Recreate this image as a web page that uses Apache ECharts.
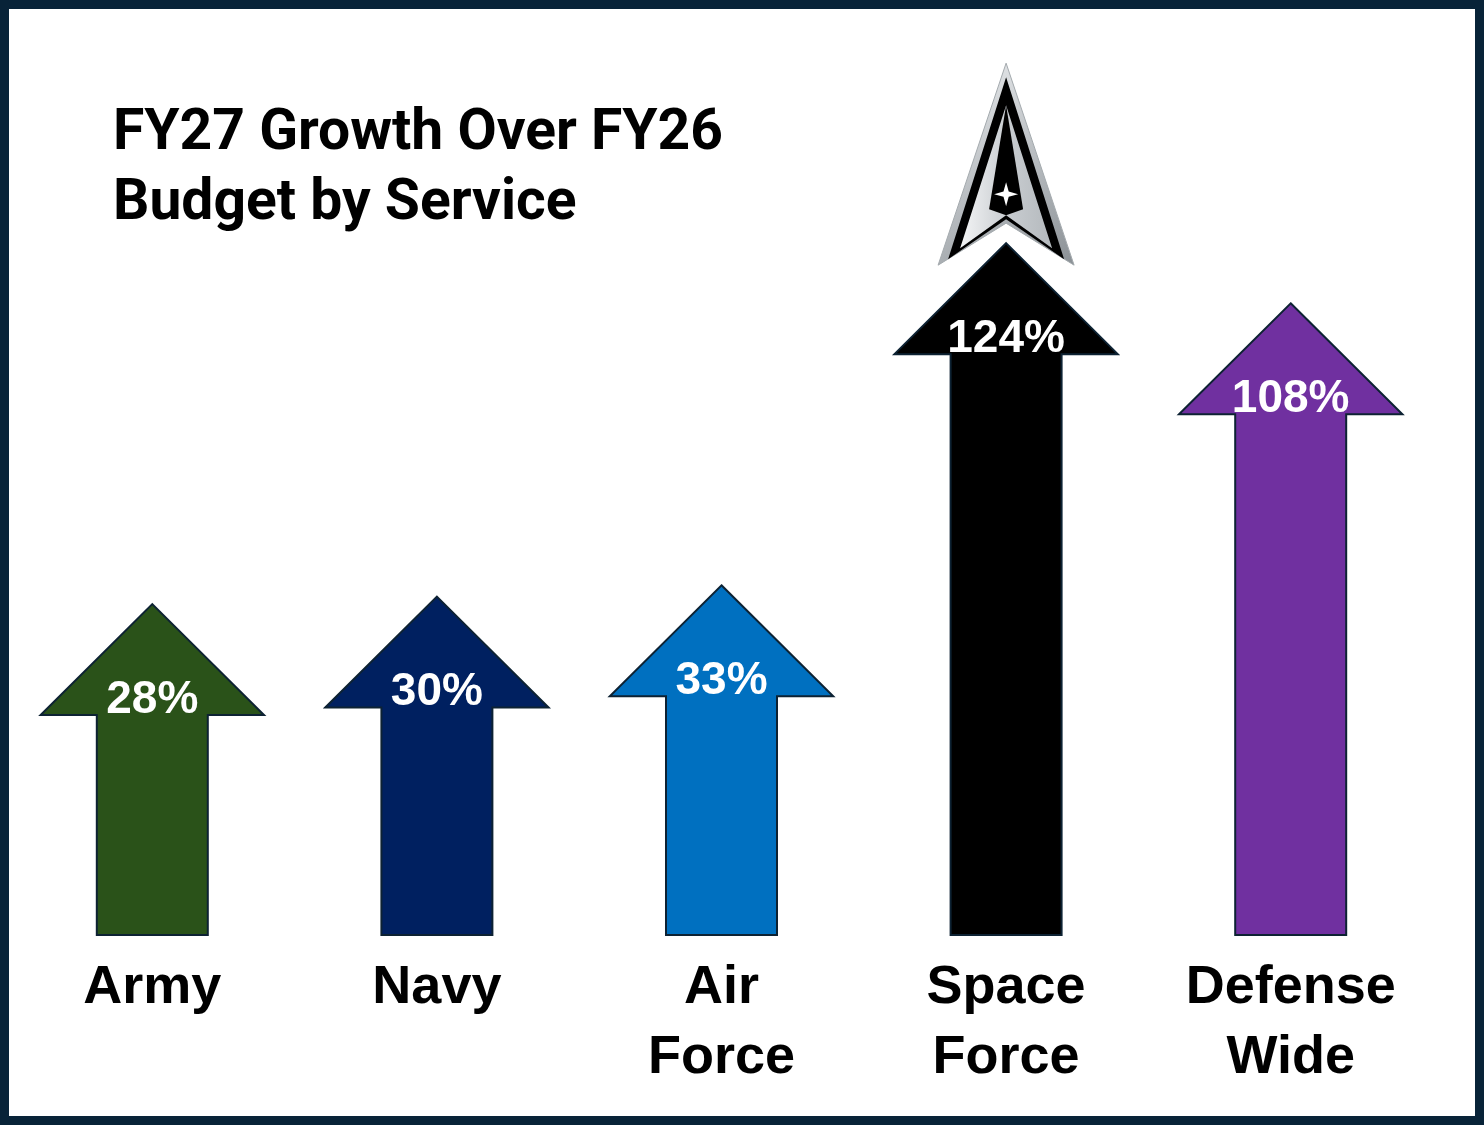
<!DOCTYPE html>
<html>
<head>
<meta charset="utf-8">
<script src="https://cdn.jsdelivr.net/npm/echarts@6/dist/echarts.min.js"></script>
<style>
html,body{margin:0;padding:0;background:#fff;}
#chart{width:1484px;height:1125px;}
</style>
</head>
<body>
<div id="chart"></div>
<script>
var categories = ['Army', 'Navy', 'Air\nForce', 'Space\nForce', 'Defense\nWide'];
var growthPct = [28, 30, 33, 124, 108];
var arrowColors = ['#2a5219', '#002060', '#0070c0', '#000000', '#7030a0'];
var titleText = 'FY27 Growth Over FY26\nBudget by Service';
var logoCategory = 'Space\nForce';

var Y_MIN = -60, Y_MAX = 140;

var chart = echarts.init(document.getElementById('chart'), null, {renderer: 'canvas'});

var arrowData = categories.map(function (c, i) { return [i, growthPct[i]]; });
var logoIdx = categories.indexOf(logoCategory);
var logoData = [[logoIdx, growthPct[logoIdx]]];

function renderArrow(params, api) {
  var idx = api.value(0);
  var val = api.value(1);
  var tip = api.coord([idx, val]);
  var base = api.coord([idx, Y_MIN]);
  var band = api.size([1, 0])[0];
  var sw = band * 0.39 / 2, hw = band * 0.785 / 2, hh = 111;
  var cx = tip[0], hb = tip[1] + hh;
  var pts = [[cx, tip[1]], [cx + hw, hb], [cx + sw, hb], [cx + sw, base[1]],
             [cx - sw, base[1]], [cx - sw, hb], [cx - hw, hb]];
  return {
    type: 'group',
    children: [
      { type: 'polygon', shape: { points: pts },
        style: { fill: arrowColors[idx], stroke: '#0d2233', lineWidth: 2 } },
      { type: 'text', x: cx, y: hb - 15,
        style: { text: val + '%', fill: '#ffffff', font: 'bold 46px "Liberation Sans", Arial, sans-serif',
                 align: 'center', verticalAlign: 'middle' } }
    ]
  };
}

function renderLogo(params, api) {
  var tip = api.coord([api.value(0), api.value(1)]);
  var tx = tip[0], ty = tip[1];
  function P(arr) { return arr.map(function (p) { return [tx + p[0], ty + p[1]]; }); }
  var star = [[0,-12],[2.6,-2.6],[12,0],[2.6,2.6],[0,12],[-2.6,2.6],[-12,0],[-2.6,-2.6]]
    .map(function (p) { return [p[0], p[1] - 49]; });
  return {
    type: 'group',
    children: [
      { type: 'polygon', shape: { points: P([[0,-180],[-68,22],[0,-20],[68,22]]) },
        style: { fill: new echarts.graphic.LinearGradient(0, 0, 1, 1, [
                   { offset: 0, color: '#eef0f2' }, { offset: 1, color: '#8a9095' }]),
                 stroke: '#a4aaae', lineWidth: 1 } },
      { type: 'polygon', shape: { points: P([[0,-166],[-58,16],[0,-24],[58,16]]) },
        style: { fill: '#000000' } },
      { type: 'polygon', shape: { points: P([[0,-138],[-46,5],[0,-28],[46,5]]) },
        style: { fill: new echarts.graphic.LinearGradient(0, 0, 1, 0, [
                   { offset: 0, color: '#f4f5f6' }, { offset: 0.5, color: '#c9cdd1' }, { offset: 1, color: '#b4b9bd' }]) } },
      { type: 'polygon', shape: { points: P([[0,-138],[-17,-34],[0,-28],[17,-34]]) },
        style: { fill: '#000000' } },
      { type: 'polygon', shape: { points: P(star) },
        style: { fill: '#ffffff' } }
    ]
  };
}

var option = {
  backgroundColor: '#ffffff',
  animation: false,
  title: {
    text: titleText,
    left: 113, top: 100, padding: 0,
    textStyle: { fontFamily: 'Roboto', fontWeight: 'bold', fontSize: 57, lineHeight: 70, color: '#000000' }
  },
  grid: { left: 10, right: 51, top: 183, bottom: 190, containLabel: false },
  xAxis: {
    type: 'category',
    data: categories,
    axisLine: { show: false }, axisTick: { show: false }, splitLine: { show: false },
    axisLabel: {
      interval: 0, margin: 18, color: '#000000',
      fontFamily: '"Liberation Sans", Arial, sans-serif', fontWeight: 'bold', fontSize: 54, lineHeight: 70
    }
  },
  yAxis: { type: 'value', min: Y_MIN, max: Y_MAX, show: false, splitLine: { show: false } },
  series: [
    { type: 'custom', name: 'logo', data: logoData, renderItem: renderLogo, z: 1, silent: true },
    { type: 'custom', name: 'growth', data: arrowData, renderItem: renderArrow, z: 2 }
  ],
  graphic: [
    { type: 'rect', shape: { x: 0, y: 0, width: 1484, height: 1125 },
      style: { fill: 'none', stroke: '#082338', lineWidth: 18 }, z: 100, silent: true }
  ]
};
chart.setOption(option);
</script>
</body>
</html>
